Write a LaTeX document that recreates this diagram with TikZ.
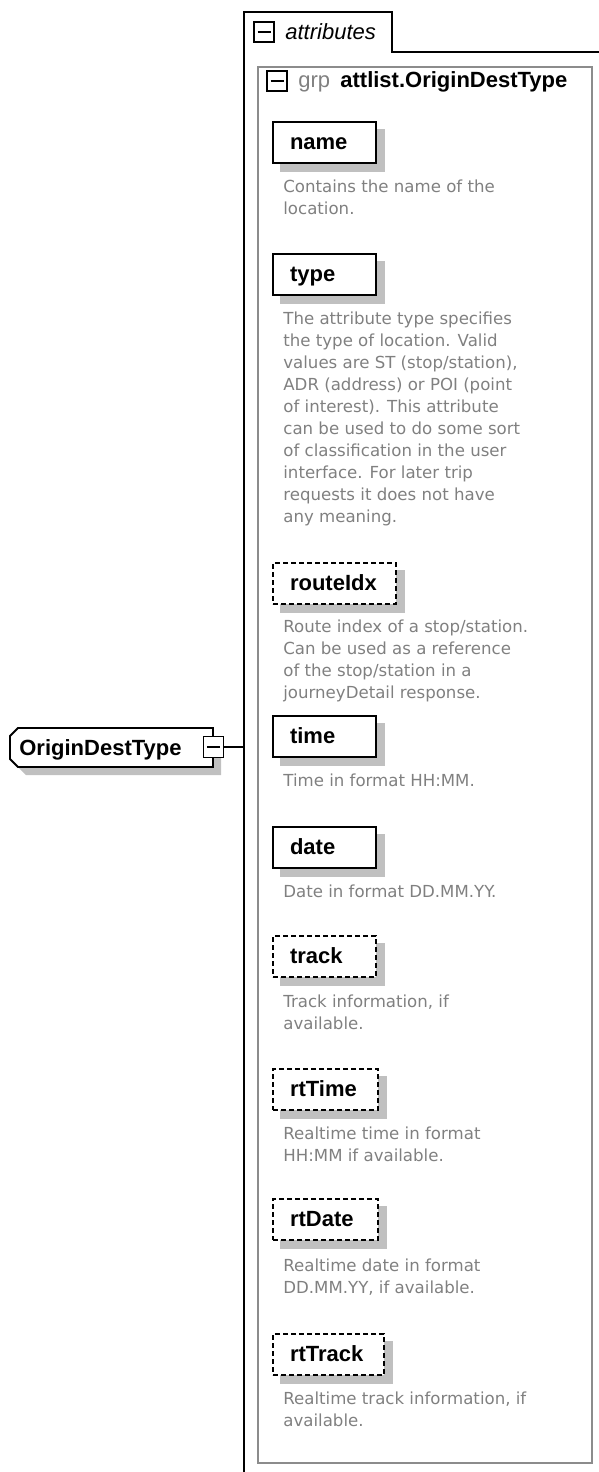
\documentclass[tikz,border=0pt]{standalone}
\usepackage{fontspec}
\setmainfont{Liberation Sans}
\newfontfamily\docfont{DejaVu Sans}
\usetikzlibrary{backgrounds}

\definecolor{docgray}{RGB}{128,128,128}
\definecolor{shadowgray}{RGB}{192,192,192}
\definecolor{grpframe}{RGB}{140,140,140}

\tikzset{every picture/.style={line width=0.75pt}}
\tikzset{
  elem/.style={draw, fill=white, line width=2pt, anchor=north west,
    minimum height=41pt, inner xsep=17pt, inner ysep=0pt, text width=69pt,
    align=left, text height=17pt, text depth=4pt,
    font=\bfseries\fontsize{22}{26}\selectfont},
  optelem/.style={elem, dash pattern=on 5pt off 3pt},
  doc/.style={anchor=north west, inner sep=0pt, align=left, text=docgray,
    font=\docfont\fontsize{16.6}{22}\selectfont},
  minusbox/.style={draw, fill=white, line width=1.4pt, minimum width=20pt,
    minimum height=20pt, inner sep=0pt,
    path picture={\draw[line width=1.4pt]
      ([xshift=-6.5pt]path picture bounding box.center) --
      ([xshift=6.5pt]path picture bounding box.center);}},
  lbl/.style={anchor=base west, inner sep=0pt,
    font=\fontsize{22}{26}\selectfont}
}

\begin{document}
\begin{tikzpicture}[x=1pt,y=1pt,yscale=-1,xscale=1]
\useasboundingbox (0,0) rectangle (598,1472);

%Shape: Attributes frame with tab
\draw [line width=1.6pt] (244,1490) -- (244,12) -- (392,12) -- (392,52) -- (620,52) ;
%Shape: Group frame
\draw [color=grpframe, line width=2pt] (258,67) rectangle (592,1463) ;

% Tab header
\node (attrbtn) [minusbox] at (264,32) {};
\node (attrlbl) [lbl, font=\itshape\fontsize{22}{26}\selectfont] at (285,40) {attributes};
% Group header
\node (grpbtn) [minusbox] at (277,81) {};
\node (grplbl) [lbl, text=docgray] at (298,88) {grp};
\node (grpname) [lbl, font=\bfseries\fontsize{22}{26}\selectfont] at (340,88) {attlist.OriginDestType};

%Shape: Complex type with shadow
\fill [shadowgray] (26,736) -- (221,736) -- (221,775) -- (26,775) -- (18,767) -- (18,744) -- cycle ;
\draw [fill=white, line width=1.8pt] (18,728) -- (213,728) -- (213,767) -- (18,767) -- (10,759) -- (10,736) -- cycle ;
% Text Node
\node (origin) [lbl, font=\bfseries\fontsize{22}{26}\selectfont] at (19,755) {OriginDestType};
\node (originbtn) [minusbox, minimum height=21pt] at (213.5,747) {};
\coordinate (attredge) at (244,747);
%Straight Lines
\draw [line width=1.6pt] (originbtn.east) -- (attredge) ;

% Attributes
\node (name) [elem] at (272,121) {name};
\node (namedoc) [doc] at (283,179.5) {Contains the name of the\\location.};

\node (type) [elem] at (272,253) {type};
\node (typedoc) [doc] at (283,311.5) {The attribute type specifies\\the type of location. Valid\\values are ST (stop/station),\\ADR (address) or POI (point\\of interest). This attribute\\can be used to do some sort\\of classification in the user\\interface. For later trip\\requests it does not have\\any meaning.};

\node (routeIdx) [optelem, text width=89pt] at (272,562) {routeIdx};
\node (routeIdxdoc) [doc] at (283,619.5) {Route index of a stop/station.\\Can be used as a reference\\of the stop/station in a\\journeyDetail response.};

\node (time) [elem] at (272,715) {time};
\node (timedoc) [doc] at (283,773.5) {Time in format HH:MM.};

\node (date) [elem] at (272,826) {date};
\node (datedoc) [doc] at (283,885) {Date in format DD.MM.YY.};

\node (track) [optelem] at (272,935) {track};
\node (trackdoc) [doc] at (283,995) {Track information, if\\available.};

\node (rtTime) [optelem, text width=71pt] at (272,1068) {rtTime};
\node (rtTimedoc) [doc] at (283,1126.5) {Realtime time in format\\HH:MM if available.};

\node (rtDate) [optelem, text width=71pt] at (272,1198) {rtDate};
\node (rtDatedoc) [doc] at (283,1258) {Realtime date in format\\DD.MM.YY, if available.};

\node (rtTrack) [optelem, text width=77pt] at (272,1333) {rtTrack};
\node (rtTrackdoc) [doc] at (283,1391.5) {Realtime track information, if\\available.};

% Shadows
\begin{scope}[on background layer]
\foreach \e in {name,type,routeIdx,time,date,track,rtTime,rtDate,rtTrack}
  \fill [shadowgray] ([shift={(8,8)}]\e.north west) rectangle ([shift={(8,8)}]\e.south east) ;
\end{scope}

\end{tikzpicture}
\end{document}
